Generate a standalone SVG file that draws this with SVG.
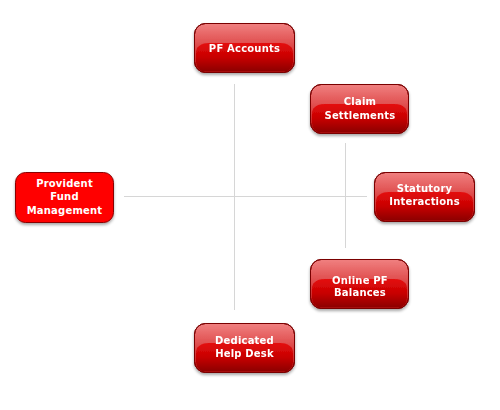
<svg xmlns="http://www.w3.org/2000/svg" width="500" height="410" viewBox="0 0 500 410">
<defs>
<linearGradient id="gTop" x1="0" y1="0" x2="0" y2="1">
<stop offset="0" stop-color="#f08080"/>
<stop offset="0.4" stop-color="#e05050"/>
<stop offset="1" stop-color="#c01010"/>
</linearGradient>
<linearGradient id="gBot" x1="0" y1="0" x2="0" y2="1">
<stop offset="0" stop-color="#e41010"/>
<stop offset="0.5" stop-color="#c80000"/>
<stop offset="1" stop-color="#8c0000"/>
</linearGradient>
<filter id="sh" x="-10%" y="-10%" width="120%" height="130%">
<feGaussianBlur in="SourceAlpha" stdDeviation="1.5"/>
<feOffset dx="0" dy="1.5" result="b"/>
<feComponentTransfer><feFuncA type="linear" slope="0.35"/></feComponentTransfer>
<feMerge><feMergeNode/><feMergeNode in="SourceGraphic"/></feMerge>
</filter>
<g id="btn">
<rect x="0" y="0" width="100" height="49" rx="11" fill="url(#gTop)" stroke="#7a0000" stroke-width="1"/>
<path d="M1.5 30 Q1.5 20 14 19.5 L86 19.5 Q98.5 20 98.5 30 L98.5 38 Q98.5 48 88 48 L12 48 Q1.5 48 1.5 38 Z" fill="url(#gBot)"/>
<rect x="0" y="0" width="100" height="49" rx="11" fill="none" stroke="#7a0000" stroke-width="1"/>
</g>
</defs>
<style>
.t{font-family:"DejaVu Sans",Verdana,sans-serif;font-weight:bold;font-size:10px;letter-spacing:0.2px;fill:#fff;text-anchor:middle}
.ln{stroke:#d6d6d6;stroke-width:1;fill:none}
</style>
<rect width="500" height="410" fill="#fff"/>
<g id="connectors">
<line class="ln" x1="234.5" y1="84" x2="234.5" y2="310"/>
<line class="ln" x1="124" y1="196.5" x2="367" y2="196.5"/>
<line class="ln" x1="345.5" y1="143" x2="345.5" y2="248"/>
</g>
<g id="provident">
<rect x="15.5" y="172.5" width="98" height="50" rx="10" fill="#ff0000" stroke="#8a0000" stroke-width="1" filter="url(#sh)"/>
<text class="t" x="64.5" y="187">Provident</text>
<text class="t" x="64.5" y="200">Fund</text>
<text class="t" x="64.5" y="213.5">Management</text>
</g>
<g id="pf-accounts" filter="url(#sh)">
<use href="#btn" x="194.5" y="23.5"/>
<text class="t" x="244.5" y="51.5">PF Accounts</text>
</g>
<g id="claim" filter="url(#sh)">
<use href="#btn" x="310.5" y="84.5" transform="translate(310.5 84.5) scale(0.98 1) translate(-310.5 -84.5)"/>
<text class="t" x="360" y="104.5">Claim</text>
<text class="t" x="360" y="118.5">Settlements</text>
</g>
<g id="statutory" filter="url(#sh)">
<use href="#btn" x="374.5" y="172.5"/>
<text class="t" x="424.5" y="192">Statutory</text>
<text class="t" x="424.5" y="205">Interactions</text>
</g>
<g id="online" filter="url(#sh)">
<use href="#btn" x="310.5" y="259.5" transform="translate(310.5 259.5) scale(0.98 1) translate(-310.5 -259.5)"/>
<text class="t" x="360" y="283.5">Online PF</text>
<text class="t" x="360" y="296">Balances</text>
</g>
<g id="helpdesk" filter="url(#sh)">
<use href="#btn" x="194.5" y="323.5"/>
<text class="t" x="244.5" y="343.5">Dedicated</text>
<text class="t" x="244.5" y="357">Help Desk</text>
</g>
</svg>
